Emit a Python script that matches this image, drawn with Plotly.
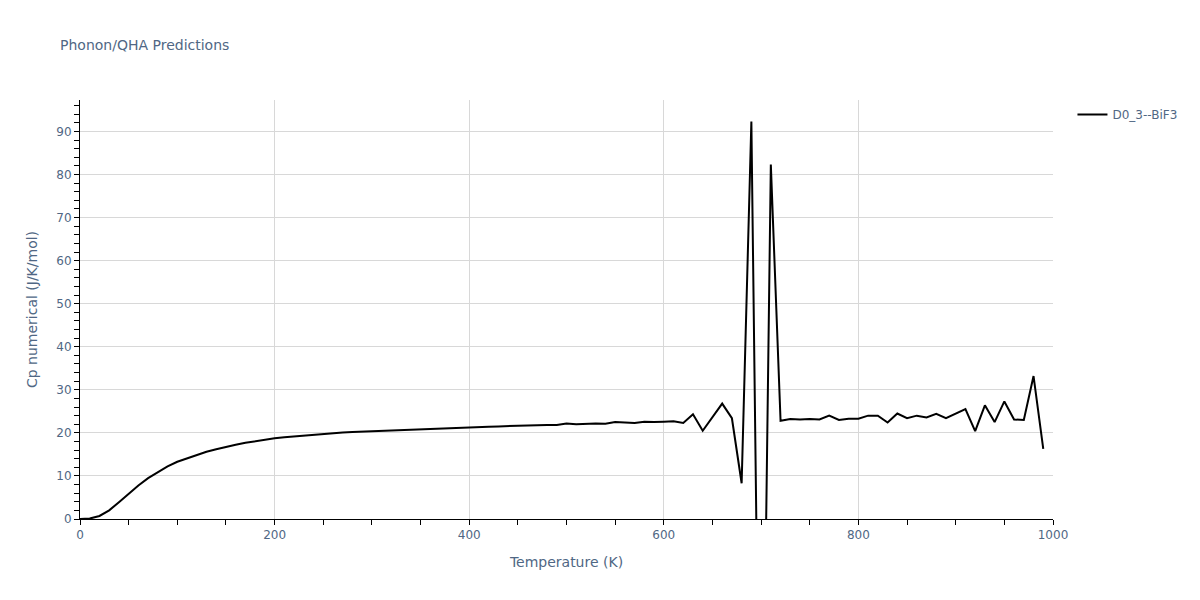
import plotly.graph_objects as go

temperature = list(range(0, 1000, 10))

cp = [
    0.0, 0.1, 0.7, 2.0, 3.9, 5.9, 7.8, 9.5, 10.9, 12.2,
    13.3, 14.1, 14.9, 15.6, 16.2, 16.8, 17.25, 17.7, 18.1, 18.45,
    18.75, 19.0, 19.2, 19.4, 19.6, 19.8, 19.95, 20.1, 20.2, 20.3,
    20.4, 20.5, 20.6, 20.7, 20.8, 20.85, 20.95, 21.0, 21.1, 21.15,
    21.25, 21.35, 21.45, 21.5, 21.6, 21.65, 21.7, 21.8, 21.85, 21.85,
    22.2, 22.0, 22.1, 22.2, 22.1, 22.5, 22.4, 22.3, 22.6, 22.5,
    22.6, 22.7, 22.3, 24.3, 20.5, 23.7, 26.8, 23.4, 8.3, 92.3,
    -90.0, 82.3, 22.8, 23.2, 23.1, 23.2, 23.1, 24.0, 23.0, 23.3,
    23.3, 24.0, 24.0, 22.4, 24.5, 23.4, 24.0, 23.6, 24.4, 23.4,
    24.4, 25.5, 20.4, 26.4, 22.5, 27.3, 23.1, 23.0, 33.2, 16.3,
]

series_name = "D0_3--BiF3"

FONT = "DejaVu Sans"
TEXT_COLOR = "#506784"

fig = go.Figure()
fig.add_trace(go.Scatter(
    x=temperature, y=cp, mode="lines", name=series_name,
    line=dict(color="black", width=2),
))

axis_common = dict(
    showline=True, linecolor="black", linewidth=1,
    ticks="outside", ticklen=5, tickcolor="black",
    showgrid=True, gridcolor="#d8d8d8", gridwidth=1,
    zeroline=False,
    tickfont=dict(color=TEXT_COLOR, size=12, family=FONT),
    title_font=dict(color=TEXT_COLOR, size=14, family=FONT),
)

fig.update_layout(
    template="plotly_white",
    width=1200, height=600,
    font=dict(family=FONT, color=TEXT_COLOR),
    title=dict(text="Phonon/QHA Predictions", x=0.05,
               font=dict(size=14, color=TEXT_COLOR, family=FONT)),
    margin=dict(l=80, r=147, t=100, b=81),
    showlegend=True,
    legend=dict(font=dict(color=TEXT_COLOR, size=12, family=FONT)),
    plot_bgcolor="white",
)
fig.update_xaxes(
    title_text="Temperature (K)", range=[0, 1000], dtick=200,
    minor=dict(dtick=50, ticks="outside", ticklen=5, tickcolor="black", showgrid=False),
    **axis_common,
)
fig.update_yaxes(
    title_text="Cp numerical (J/K/mol)", range=[0, 97.3], dtick=10,
    minor=dict(dtick=2, ticks="outside", ticklen=5, tickcolor="black", showgrid=False),
    **axis_common,
)

fig.write_html("out.html", config={"displayModeBar": False},
               post_script="document.body.style.margin='0';")
